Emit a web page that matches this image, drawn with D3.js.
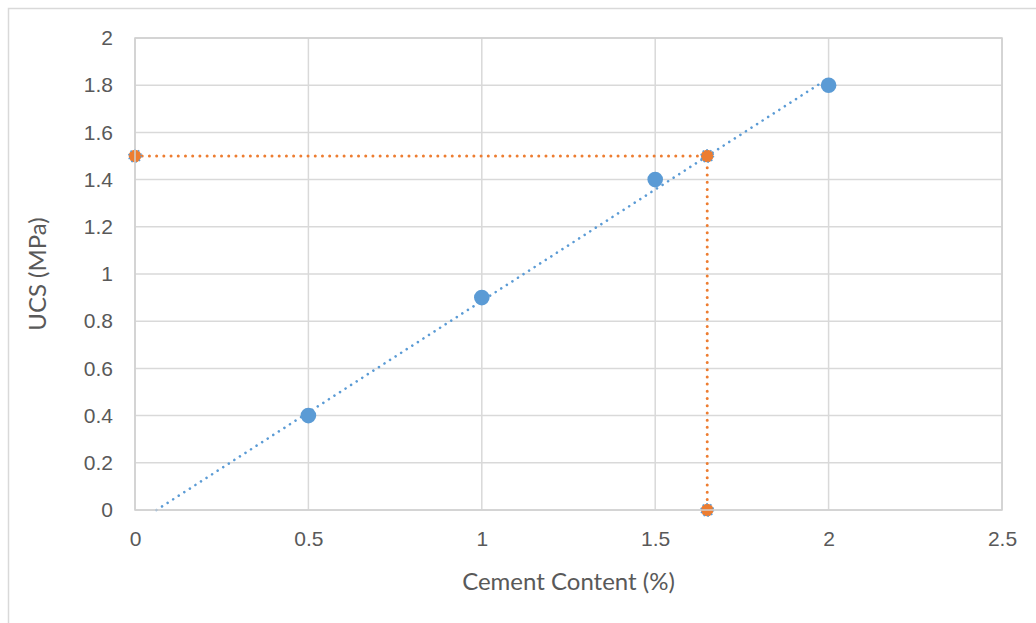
<!DOCTYPE html>
<meta charset="utf-8">
<head>
<style>
body { margin: 0; background: #fff; font-family: Lato, "Open Sans", sans-serif; }
.grid line { stroke: #d9d9d9; stroke-width: 1.5; }
.tick text { fill: #595959; font-size: 21px; }
.title { fill: #595959; font-size: 24px; }
</style>
</head>
<body>
<script src="https://d3js.org/d3.v7.min.js"></script>
<script>

// measured points (cement %, UCS MPa)
var cement = [0.5, 1, 1.5, 2];
var ucs = [0.4, 0.9, 1.4, 1.8];

// linear trendline ends
var trendX = [0.062, 2];
var trendY = [0, 1.83];

// read-off guide for 1.5 MPa
var guideX = [0, 1.65, 1.65];
var guideY = [1.5, 1.5, 0];

var xTicks = [0, 0.5, 1, 1.5, 2, 2.5];
var yTicks = [0, 0.2, 0.4, 0.6, 0.8, 1, 1.2, 1.4, 1.6, 1.8, 2];

var W = 1036, H = 623;
var margin = { top: 38, right: 34, bottom: 113, left: 135 };
var width = W - margin.left - margin.right,
    height = H - margin.top - margin.bottom;

var svg = d3.select("body").append("svg")
  .attr("width", W)
  .attr("height", H);

// chart frame
svg.append("rect")
  .attr("x", 8.5).attr("y", 8.5)
  .attr("width", W + 20).attr("height", H + 20)
  .attr("fill", "none")
  .attr("stroke", "#d9d9d9")
  .attr("stroke-width", 1.5);

var g = svg.append("g")
  .attr("transform", "translate(" + margin.left + "," + margin.top + ")");

var x = d3.scaleLinear().domain([0, 2.5]).range([0, width]);
var y = d3.scaleLinear().domain([0, 2]).range([height, 0]);

// gridlines
g.append("g").attr("class", "grid")
  .selectAll("line").data(yTicks).enter().append("line")
  .attr("x1", 0).attr("x2", width)
  .attr("y1", function(d) { return y(d); })
  .attr("y2", function(d) { return y(d); });

g.append("g").attr("class", "grid")
  .selectAll("line").data(xTicks).enter().append("line")
  .attr("y1", 0).attr("y2", height)
  .attr("x1", function(d) { return x(d); })
  .attr("x2", function(d) { return x(d); });

// axes (labels only)
var xAxis = d3.axisBottom(x).tickValues(xTicks).tickSize(0).tickPadding(21)
  .tickFormat(d3.format("~g"));
var yAxis = d3.axisLeft(y).tickValues(yTicks).tickSize(0).tickPadding(22)
  .tickFormat(d3.format("~g"));

g.append("g").attr("transform", "translate(0," + height + ")").call(xAxis)
  .call(function(s) { s.select(".domain").remove(); });
g.append("g").call(yAxis)
  .call(function(s) { s.select(".domain").remove(); });
g.selectAll(".tick text").attr("font-family", null).attr("font-size", null);

// axis titles
g.append("text").attr("class", "title")
  .attr("x", width / 2).attr("y", height + 80)
  .attr("text-anchor", "middle")
  .text("Cement Content (%)");

g.append("text").attr("class", "title")
  .attr("transform", "translate(-89," + (height / 2) + ") rotate(-90)")
  .attr("text-anchor", "middle")
  .text("UCS (MPa)");

var line = d3.line()
  .x(function(d) { return x(d[0]); })
  .y(function(d) { return y(d[1]); });

// trendline
g.append("path")
  .datum(d3.zip(trendX, trendY))
  .attr("d", line)
  .attr("fill", "none")
  .attr("stroke", "#5b9bd5")
  .attr("stroke-width", 2.6)
  .attr("stroke-dasharray", "0.01,6.6")
  .attr("stroke-linecap", "round");

// orange guide line
g.append("path")
  .datum(d3.zip(guideX, guideY))
  .attr("d", line)
  .attr("fill", "none")
  .attr("stroke", "#ed7d31")
  .attr("stroke-width", 3)
  .attr("stroke-dasharray", "0.01,7.2")
  .attr("stroke-linecap", "round");

// data points
g.selectAll(".dot")
  .data(d3.zip(cement, ucs))
  .enter().append("circle")
  .attr("class", "dot")
  .attr("r", 7.8)
  .attr("cx", function(d) { return x(d[0]); })
  .attr("cy", function(d) { return y(d[1]); })
  .attr("fill", "#5b9bd5");

// guide markers
g.selectAll(".gm")
  .data(d3.zip(guideX, guideY))
  .enter().append("circle")
  .attr("class", "gm")
  .attr("r", 6.3)
  .attr("cx", function(d) { return x(d[0]); })
  .attr("cy", function(d) { return y(d[1]); })
  .attr("fill", "#ed7d31")
  .attr("stroke", "#5b9bd5")
  .attr("stroke-width", 1.4)
  .attr("stroke-dasharray", "1.5,2.5");

// plot border on top
g.append("rect")
  .attr("width", width).attr("height", height)
  .attr("fill", "none")
  .attr("stroke", "#d0d0d0")
  .attr("stroke-width", 1.5);

</script>
</body>
